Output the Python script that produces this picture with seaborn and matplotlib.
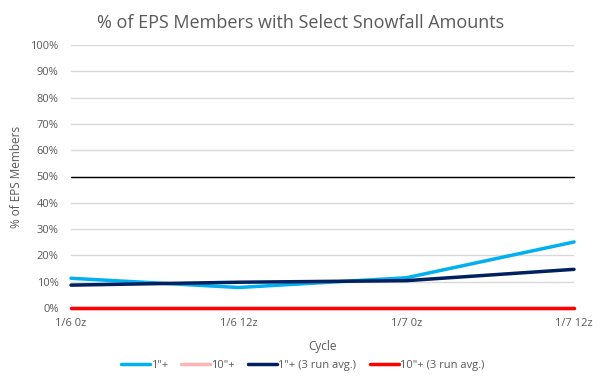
import numpy as np
import pandas as pd
import matplotlib.pyplot as plt
import seaborn as sns
from matplotlib.ticker import PercentFormatter

sns.set_style('white')
plt.rcParams['font.family'] = ['Open Sans', 'DejaVu Sans']

cycles = ['1/6 0z', '1/6 12z', '1/7 0z', '1/7 12z']
one_inch = [11.3, 7.8, 11.5, 25.1]
ten_inch = [0, 0, 0, 0]
one_inch_avg = [8.7, 9.8, 10.4, 14.7]
ten_inch_avg = [0, 0, 0, 0]

series_names = ['1"+', '10"+', '1"+ (3 run avg.)', '10"+ (3 run avg.)']
colors = ['#00b0f0', '#ffb3b3', '#002060', '#ff0000']

df = pd.DataFrame({'Cycle': cycles, series_names[0]: one_inch, series_names[1]: ten_inch,
                   series_names[2]: one_inch_avg, series_names[3]: ten_inch_avg})
long = df.melt(id_vars='Cycle', var_name='series', value_name='pct')

fig = plt.figure(figsize=(6.01, 3.89), dpi=100)
ax = fig.add_axes([71/601, 1 - 308/389, (574-71)/601, (308-45)/389])

ax.axhline(50, color='black', lw=1, zorder=1)
sns.lineplot(data=long, x='Cycle', y='pct', hue='series', hue_order=series_names,
             palette=colors, lw=2.5, ax=ax, sort=False, zorder=3)
for ln in ax.lines:
    ln.set_clip_on(False)

ax.set_ylim(0, 100)
ax.set_xlim(0, len(cycles) - 1)
ax.set_yticks(np.arange(0, 101, 10))
ax.yaxis.set_major_formatter(PercentFormatter(decimals=0))
ax.grid(axis='y', color='#d9d9d9', lw=1, zorder=0)
for s in ax.spines.values():
    s.set_visible(False)
ax.tick_params(colors='#595959', labelsize=8, length=0, pad=9)
ax.tick_params(axis='x', pad=7)

ax.set_xlabel('Cycle', color='#595959', fontsize=8.5, labelpad=8)
ax.set_ylabel('% of EPS Members', color='#595959', fontsize=8.5, labelpad=5)
fig.suptitle('% of EPS Members with Select Snowfall Amounts', color='#595959',
             fontsize=13, x=0.5, y=0.965)

ax.legend(loc='upper center', bbox_to_anchor=(0.46, -0.16), ncol=4, frameon=False,
          fontsize=8, labelcolor='#595959', handlelength=2.6, columnspacing=1.2,
          handletextpad=0.1)

fig.savefig('out.png', dpi=100)
